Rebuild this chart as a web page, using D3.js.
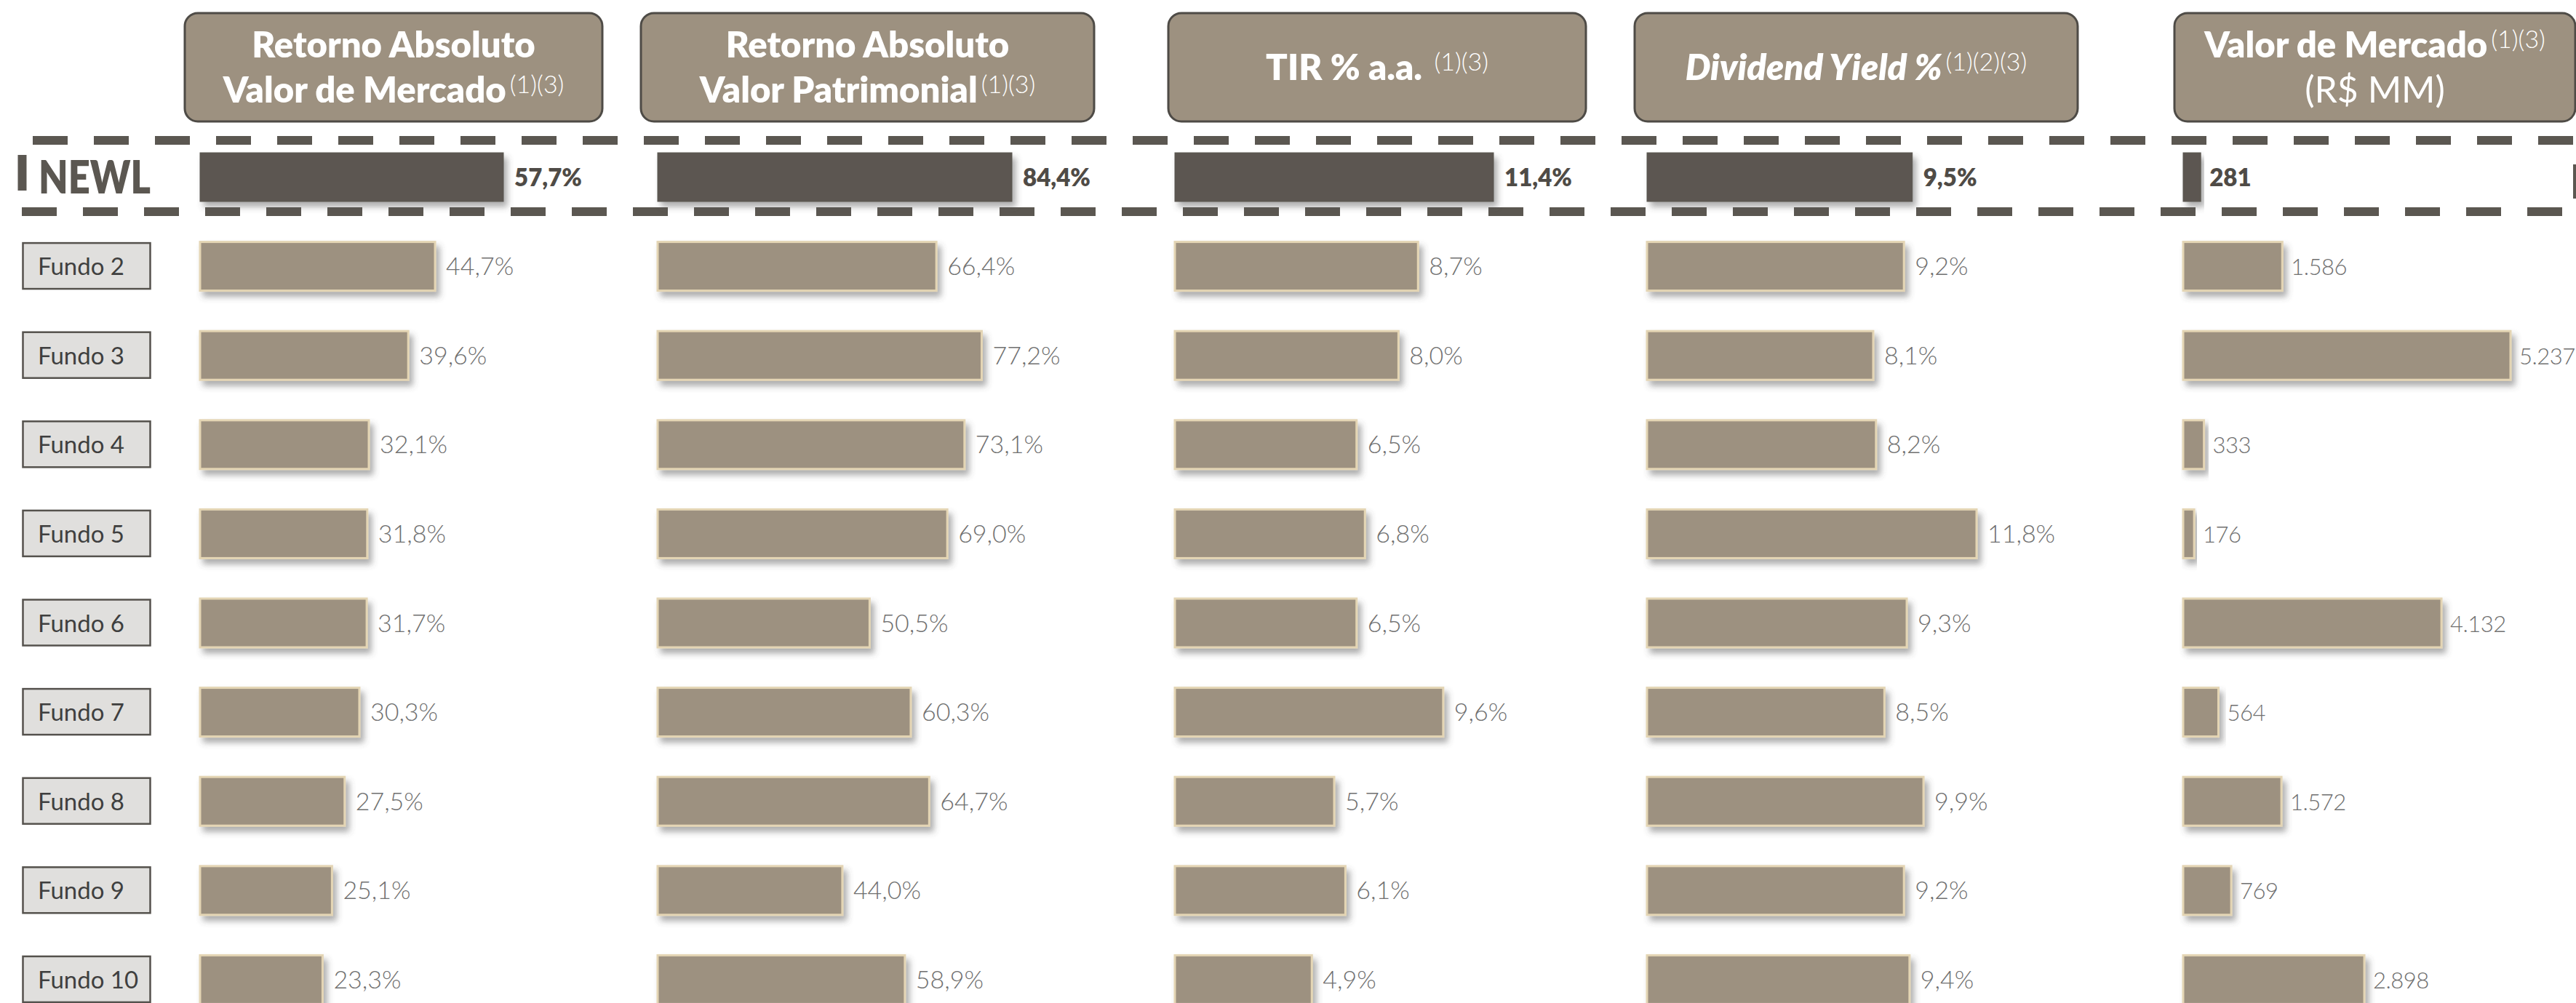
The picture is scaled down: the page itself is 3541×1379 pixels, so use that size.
<!DOCTYPE html>
<html lang="pt-BR">
<head>
<meta charset="UTF-8">
<title>NEWL x Fundos - Comparativo</title>
<script src="https://d3js.org/d3.v7.min.js"></script>
<style>
    html, body { margin: 0; padding: 0; background: #fff; }
    svg { display: block; font-family: Lato, "Open Sans", sans-serif; }

    .hdr-box { fill: #9d9180; stroke: #4e4b46; stroke-width: 3; }
    .hdr-text { fill: #fff; font-weight: 800; font-size: 49px; }
    .hdr-text .sup { font-weight: 300; font-size: 34px; }
    .hdr-text .light { font-weight: 400; font-size: 50px; }

    .row-box { fill: #e0dfdd; stroke: #55524d; stroke-width: 2.5; }
    .row-label { fill: #3f3f3f; font-size: 33px; font-weight: 400; }
    .newl-label { fill: #5b5751; font-size: 62px; font-weight: 800; }

    .bar { fill: #9d9180; stroke: #e4d5b4; stroke-width: 3; }
    .bar.hl { fill: #5b5751; stroke: #5b5751; stroke-width: 1; }

    .val { fill: #707070; font-size: 34px; font-weight: 300; }
    .val.hl { fill: #4f4b46; font-size: 33px; font-weight: 800; }
    .val.narrow { font-size: 31px; letter-spacing: -0.5px; }

    .dash { stroke: #5b5751; stroke-width: 12; fill: none; }
</style>
</head>
<body>
<div id="chart"></div>
<script>
// categories
const funds = ["NEWL", "Fundo 2", "Fundo 3", "Fundo 4", "Fundo 5",
               "Fundo 6", "Fundo 7", "Fundo 8", "Fundo 9", "Fundo 10"];

// series values (one per fund, same order)
const retornoValorMercado     = [57.7, 44.7, 39.6, 32.1, 31.8, 31.7, 30.3, 27.5, 25.1, 23.3];
const retornoValorPatrimonial = [84.4, 66.4, 77.2, 73.1, 69.0, 50.5, 60.3, 64.7, 44.0, 58.9];
const tirAA                   = [11.4, 8.7, 8.0, 6.5, 6.8, 6.5, 9.6, 5.7, 6.1, 4.9];
const dividendYield           = [9.5, 9.2, 8.1, 8.2, 11.8, 9.3, 8.5, 9.9, 9.2, 9.4];
const valorMercado            = [281, 1586, 5237, 333, 176, 4132, 564, 1572, 769, 2898];

// header texts
const headerLines = [
    [["Retorno Absoluto"], ["Valor de Mercado", "(1)(3)"]],
    [["Retorno Absoluto"], ["Valor Patrimonial", "(1)(3)"]],
    [["TIR % a.a. ", "(1)(3)"]],
    [["Dividend Yield %", "(1)(2)(3)"]],
    [["Valor de Mercado", "(1)(3)"], ["(R$ MM)"]]
];

const W = 3541, H = 1379;

// brazilian number format
const br = d3.formatLocale({ decimal: ",", thousands: ".", grouping: [3], currency: ["R$", ""] });
const pct = v => br.format(".1f")(v) + "%";
const mm = br.format(",.0f");

// layout of each column: header box, bar origin and bar length for max value
const columns = [
    { values: retornoValorMercado,     fmt: pct, box: [254, 828],   x0: 275,  maxW: 417 },
    { values: retornoValorPatrimonial, fmt: pct, box: [881, 1504],  x0: 904,  maxW: 487 },
    { values: tirAA,                   fmt: pct, box: [1606, 2180], x0: 1615, maxW: 438 },
    { values: dividendYield,           fmt: pct, box: [2247, 2856], x0: 2264, maxW: 453, italic: true },
    { values: valorMercado,            fmt: mm,  box: [2989, 3540], x0: 3001, maxW: 450, narrow: true }
];

const svg = d3.select("#chart").append("svg")
    .attr("width", W)
    .attr("height", H);

// drop shadow for bars
const defs = svg.append("defs");
defs.append("filter")
    .attr("id", "shadow")
    .attr("x", "-10%").attr("y", "-20%")
    .attr("width", "130%").attr("height", "160%")
    .append("feDropShadow")
    .attr("dx", 5).attr("dy", 7)
    .attr("stdDeviation", 4)
    .attr("flood-color", "#4a4a4a")
    .attr("flood-opacity", 0.45);

// row positions
const y = d3.scalePoint()
    .domain(funds)
    .range([243.5, 243.5 + 9 * 122.6]);
const barH = 67;

// dashed frame around NEWL row
const frame = svg.append("g");
frame.append("line").attr("class", "dash")
    .attr("x1", 45).attr("x2", W).attr("y1", 193).attr("y2", 193)
    .attr("stroke-dasharray", "48 36");
frame.append("line").attr("class", "dash")
    .attr("x1", 30).attr("x2", W).attr("y1", 291).attr("y2", 291)
    .attr("stroke-dasharray", "48 36");
frame.append("line").attr("class", "dash")
    .attr("x1", 30.5).attr("x2", 30.5).attr("y1", 213).attr("y2", 262);
frame.append("line").attr("class", "dash")
    .attr("x1", 3543).attr("x2", 3543).attr("y1", 226).attr("y2", 273);

// row labels
svg.append("text")
    .attr("class", "newl-label")
    .attr("x", 53)
    .attr("y", y("NEWL") + 22)
    .attr("textLength", 154)
    .attr("lengthAdjust", "spacingAndGlyphs")
    .text("NEWL");

const rows = svg.append("g").selectAll("g")
    .data(funds.slice(1))
    .join("g")
    .attr("transform", d => `translate(0,${y(d)})`);

rows.append("rect")
    .attr("class", "row-box")
    .attr("x", 31.5)
    .attr("y", -32)
    .attr("width", 175)
    .attr("height", 63);

rows.append("text")
    .attr("class", "row-label")
    .attr("x", 52)
    .attr("y", 12)
    .text(d => d);

// header boxes + bars, column by column
columns.forEach((col, ci) => {
    const g = svg.append("g");
    const [bx0, bx1] = col.box;
    const cx = (bx0 + bx1) / 2;

    g.append("rect")
        .attr("class", "hdr-box")
        .attr("x", bx0).attr("y", 18)
        .attr("width", bx1 - bx0).attr("height", 149)
        .attr("rx", 18).attr("ry", 18);

    const lines = headerLines[ci];
    const baselines = lines.length === 2 ? [79, 141] : [110];

    lines.forEach((ln, li) => {
        const t = g.append("text")
            .attr("class", "hdr-text")
            .attr("x", cx)
            .attr("y", baselines[li])
            .attr("text-anchor", "middle");
        const main = t.append("tspan").text(ln[0]);
        if (col.italic) main.style("font-style", "italic");
        if (ci === 4 && li === 1) main.attr("class", "light");
        if (ln[1]) {
            t.append("tspan")
                .attr("class", "sup")
                .attr("dx", 5)
                .attr("dy", -13)
                .text(ln[1]);
        }
    });

    // bars
    const x = d3.scaleLinear()
        .domain([0, d3.max(col.values)])
        .range([0, col.maxW]);

    const data = funds.map((f, i) => ({ fund: f, value: col.values[i], hl: i === 0 }));

    g.selectAll("rect.bar")
        .data(data)
        .join("rect")
        .attr("class", d => d.hl ? "bar hl" : "bar")
        .attr("x", col.x0)
        .attr("y", d => y(d.fund) - barH / 2)
        .attr("width", d => x(d.value))
        .attr("height", barH)
        .attr("filter", "url(#shadow)");

    g.selectAll("text.val")
        .data(data)
        .join("text")
        .attr("class", d => "val" + (d.hl ? " hl" : "") + (col.narrow && !d.hl ? " narrow" : ""))
        .attr("x", d => col.x0 + x(d.value) + (col.narrow ? 12 : 15))
        .attr("y", d => y(d.fund) + 12)
        .text(d => col.fmt(d.value));
});
</script>
</body>
</html>
